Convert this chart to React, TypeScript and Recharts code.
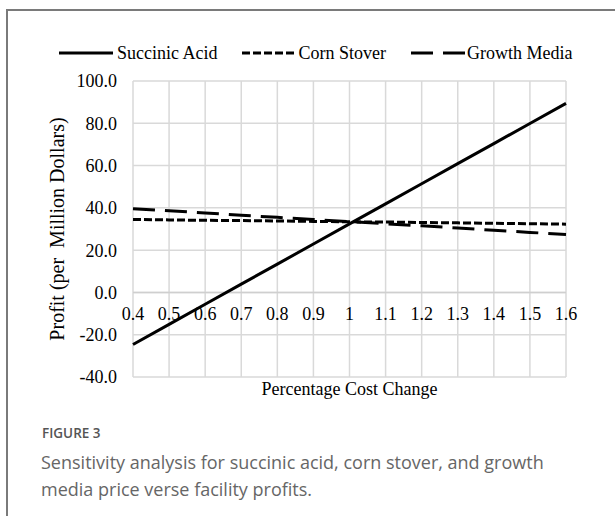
import React from 'react';
import {
  LineChart,
  Line,
  XAxis,
  YAxis,
  CartesianGrid,
  Legend,
  ReferenceLine,
} from 'recharts';

// ---- data ----
const costChange = [0.4, 0.5, 0.6, 0.7, 0.8, 0.9, 1.0, 1.1, 1.2, 1.3, 1.4, 1.5, 1.6];
const succinicAcid = [-24.6, -15.1, -5.6, 3.9, 13.4, 22.9, 32.4, 41.9, 51.4, 60.9, 70.4, 79.9, 89.4];
const cornStover = [34.5, 34.3, 34.1, 34.0, 33.8, 33.6, 33.4, 33.3, 33.1, 32.9, 32.7, 32.5, 32.3];
const growthMedia = [39.6, 38.6, 37.6, 36.5, 35.5, 34.5, 33.5, 32.5, 31.5, 30.5, 29.4, 28.4, 27.4];
const xTicks = [0.4, 0.5, 0.6, 0.7, 0.8, 0.9, 1, 1.1, 1.2, 1.3, 1.4, 1.5, 1.6];
const yTicks = [-40, -20, 0, 20, 40, 60, 80, 100];
const seriesNames = ['Succinic Acid', 'Corn Stover', 'Growth Media'];
const seriesKeys = ['sa', 'cs', 'gm'];
const seriesDash = ['', '8 3', '22 10'];

const data = costChange.map((x, i) => ({
  x,
  sa: succinicAcid[i],
  cs: cornStover[i],
  gm: growthMedia[i],
}));

// ---- layout ----
const W = 615;
const CH = 410;
const MARGIN = { top: 38, right: 49, bottom: 8, left: 0 };
const LEGEND_H = 43;
const Y_AXIS_W = 133;
const X_AXIS_H = 25;
const PLOT_TOP = MARGIN.top + LEGEND_H;
const PLOT_H = CH - MARGIN.bottom - X_AXIS_H - PLOT_TOP;
const Y_MIN = -40;
const Y_MAX = 100;
const SERIF = "'Liberation Serif', 'Times New Roman', serif";

const XTick = (props: any) => {
  const { x, payload } = props;
  const y0 = PLOT_TOP + ((Y_MAX - 0) / (Y_MAX - Y_MIN)) * PLOT_H;
  const label = payload.value === 1 ? '1' : String(payload.value);
  return (
    <text x={x} y={y0 + 21} dy="0.35em" textAnchor="middle" fontSize={18} fill="#000" fontFamily={SERIF}>
      {label}
    </text>
  );
};

const YLabel = (props: any) => {
  const vb = props.viewBox || { x: 0, y: PLOT_TOP, width: Y_AXIS_W, height: PLOT_H };
  const x = vb.x + 64;
  const y = vb.y + vb.height / 2;
  return (
    <text
      x={x}
      y={y}
      transform={`rotate(-90 ${x} ${y})`}
      textAnchor="middle"
      fontSize={20}
      fill="#000"
      fontFamily={SERIF}
      style={{ whiteSpace: 'pre' }}
    >
      {'Profit (per  Million Dollars)'}
    </text>
  );
};

const XLabel = (props: any) => {
  const vb = props.viewBox || { x: Y_AXIS_W, y: PLOT_TOP + PLOT_H, width: W - Y_AXIS_W - MARGIN.right, height: X_AXIS_H };
  return (
    <text x={vb.x + vb.width / 2} y={vb.y + 18} textAnchor="middle" fontSize={18} fill="#000" fontFamily={SERIF}>
      Percentage Cost Change
    </text>
  );
};

const renderLegend = () => (
  <div
    style={{
      height: LEGEND_H,
      display: 'flex',
      alignItems: 'flex-start',
      paddingLeft: 59,
      boxSizing: 'border-box',
    }}
  >
    {seriesNames.map((name, i) => (
      <div key={name} style={{ display: 'flex', alignItems: 'center', height: 30, marginRight: i < 2 ? 25 : 0 }}>
        <svg width={54} height={10} style={{ marginRight: i === 0 ? 4 : 2 }}>
          <line x1={0} y1={5} x2={54} y2={5} stroke="#000" strokeWidth={3} strokeDasharray={seriesDash[i] || undefined} />
        </svg>
        <span style={{ fontFamily: SERIF, fontSize: 18, color: '#000', lineHeight: '30px' }}>{name}</span>
      </div>
    ))}
  </div>
);

export default function App() {
  return (
    <div
      style={{
        position: 'absolute',
        left: 0,
        top: 0,
        width: W,
        height: 516,
        background: '#fff',
        overflow: 'hidden',
      }}
    >
      <div
        style={{
          position: 'absolute',
          left: 6,
          top: 9,
          width: 700,
          height: 600,
          borderLeft: '2px solid #7a7a7a',
          borderTop: '2px solid #7a7a7a',
        }}
      />
      <div style={{ position: 'absolute', left: 0, top: 0 }}>
        <LineChart width={W} height={CH} data={data} margin={MARGIN}>
          <CartesianGrid stroke="#d9d9d9" strokeWidth={1.5} />
          <XAxis
            dataKey="x"
            type="number"
            domain={[0.4, 1.6]}
            ticks={xTicks}
            tick={<XTick />}
            axisLine={false}
            tickLine={false}
            height={X_AXIS_H}
            interval={0}
            label={<XLabel />}
          />
          <YAxis
            type="number"
            domain={[Y_MIN, Y_MAX]}
            ticks={yTicks}
            width={Y_AXIS_W}
            axisLine={false}
            tickLine={false}
            tickSize={0}
            tickMargin={16}
            tickFormatter={(v: number) => v.toFixed(1)}
            tick={{ fontSize: 18, fill: '#000', fontFamily: SERIF }}
            interval={0}
            label={<YLabel />}
          />
          <ReferenceLine y={0} stroke="#cfcfcf" strokeWidth={1.5} />
          <Legend verticalAlign="top" content={renderLegend} wrapperStyle={{ top: MARGIN.top, left: 0, width: W, height: LEGEND_H }} />
          {seriesKeys.map((k, i) => (
            <Line
              key={k}
              dataKey={k}
              name={seriesNames[i]}
              stroke="#000"
              strokeWidth={3}
              strokeDasharray={seriesDash[i] || undefined}
              dot={false}
              activeDot={false}
              isAnimationActive={false}
              type="linear"
            />
          ))}
        </LineChart>
      </div>
      <div style={{ position: 'absolute', left: 42, top: 424, fontFamily: "'Open Sans', sans-serif", color: '#555', fontSize: 13.5, fontWeight: 600 }}>
        FIGURE 3
      </div>
      <div
        style={{
          position: 'absolute',
          left: 41,
          top: 449,
          fontFamily: "'Open Sans', sans-serif",
          color: '#666',
          fontSize: 18,
          lineHeight: '27px',
          whiteSpace: 'nowrap',
        }}
      >
        Sensitivity analysis for succinic acid, corn stover, and growth
        <br />
        media price verse facility profits.
      </div>
    </div>
  );
}
